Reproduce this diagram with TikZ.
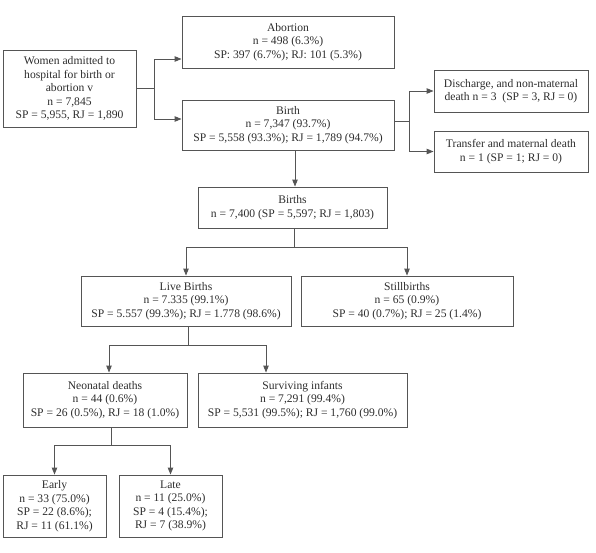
\documentclass[tikz,border=0pt]{standalone}
\usepackage{fontspec}
\setmainfont{Liberation Serif}
\usetikzlibrary{calc,arrows.meta}
\definecolor{linec}{RGB}{85,85,85}
\definecolor{textc}{RGB}{45,45,45}
\tikzset{
  box/.style={draw=linec, line width=0.9pt, align=center, text=textc, inner sep=1pt,
    font=\fontsize{11.6}{13.5}\selectfont},
  conn/.style={draw=linec, line width=0.9pt},
  arr/.style={conn, -{Triangle[length=7pt,width=5.5pt]}}
}
\begin{document}
\begin{tikzpicture}[x=1pt,y=-1pt]
\useasboundingbox (0,0) rectangle (596,552);
\node[box, minimum width=133, minimum height=77] (women) at (69.5,88.5)
  {Women admitted to\\hospital for birth or\\abortion v\\n = 7,845\\SP = 5,955, RJ = 1,890};
\node[box, minimum width=212, minimum height=52] (abortion) at (288,42)
  {Abortion\\n = 498 (6.3\%)\\SP: 397 (6.7\%); RJ: 101 (5.3\%)};
\node[box, minimum width=212, minimum height=50] (birth) at (288,125)
  {Birth\\n = 7,347 (93.7\%)\\SP = 5,558 (93.3\%); RJ = 1,789 (94.7\%)};
\node[box, minimum width=154, minimum height=42] (discharge) at (511,91)
  {Discharge, and non-maternal\\death n = 3\ \ (SP = 3, RJ = 0)};
\node[box, minimum width=154, minimum height=41] (transfer) at (511,151.5)
  {Transfer and maternal death\\n = 1 (SP = 1; RJ = 0)};
\node[box, minimum width=189, minimum height=41] (births) at (292.5,207.5)
  {Births\\n = 7,400 (SP = 5,597; RJ = 1,803)};
\node[box, minimum width=210, minimum height=50] (live) at (186,301)
  {Live Births\\n = 7.335 (99.1\%)\\SP = 5.557 (99.3\%); RJ = 1.778 (98.6\%)};
\node[box, minimum width=212, minimum height=50] (still) at (407,301)
  {Stillbirths\\n = 65 (0.9\%)\\SP = 40 (0.7\%); RJ = 25 (1.4\%)};
\node[box, minimum width=164, minimum height=54] (neonatal) at (105,400)
  {Neonatal deaths\\n = 44 (0.6\%)\\SP = 26 (0.5\%), RJ = 18 (1.0\%)};
\node[box, minimum width=209, minimum height=54] (surviving) at (302.5,400)
  {Surviving infants\\n = 7,291 (99.4\%)\\SP = 5,531 (99.5\%); RJ = 1,760 (99.0\%)};
\node[box, minimum width=103, minimum height=62] (early) at (54.5,506)
  {Early\\n = 33 (75.0\%)\\SP = 22 (8.6\%);\\RJ = 11 (61.1\%)};
\node[box, minimum width=103, minimum height=62] (late) at (170.5,506)
  {Late\\n = 11 (25.0\%)\\SP = 4 (15.4\%);\\RJ = 7 (38.9\%)};
% women -> abortion / birth
\coordinate (j1) at ($(women.east)+(18,0)$);
\draw[conn] (women.east) -- (j1);
\draw[arr] (j1) |- ($(abortion.west)+(0,17)$);
\draw[arr] (j1) |- ($(birth.west)+(0,-6)$);
% birth -> discharge / transfer
\coordinate (j2) at ($(birth.east)+(15,-4)$);
\draw[conn] ($(birth.east)+(0,-4)$) -- (j2);
\draw[arr] (j2) |- (discharge.west);
\draw[arr] (j2) |- (transfer.west);
% birth -> births
\draw[arr] ($(birth.south)+(7,0)$) -- ($(births.north)+(2.5,0)$);
% births -> live / still
\coordinate (j3) at ($(births.south)+(1.5,19)$);
\draw[conn] ($(births.south)+(1.5,0)$) -- (j3);
\draw[arr] (j3) -| (live.north);
\draw[arr] (j3) -| (still.north);
% live -> neonatal / surviving
\coordinate (j4) at ($(live.south)+(2,19)$);
\draw[conn] ($(live.south)+(2,0)$) -- (j4);
\draw[arr] (j4) -| ($(neonatal.north)+(4,0)$);
\draw[arr] (j4) -| ($(surviving.north)+(-36.5,0)$);
% neonatal -> early / late
\coordinate (j5) at ($(neonatal.south)+(6,18)$);
\draw[conn] ($(neonatal.south)+(6,0)$) -- (j5);
\draw[arr] (j5) -| (early.north);
\draw[arr] (j5) -| (late.north);
\end{tikzpicture}
\end{document}
